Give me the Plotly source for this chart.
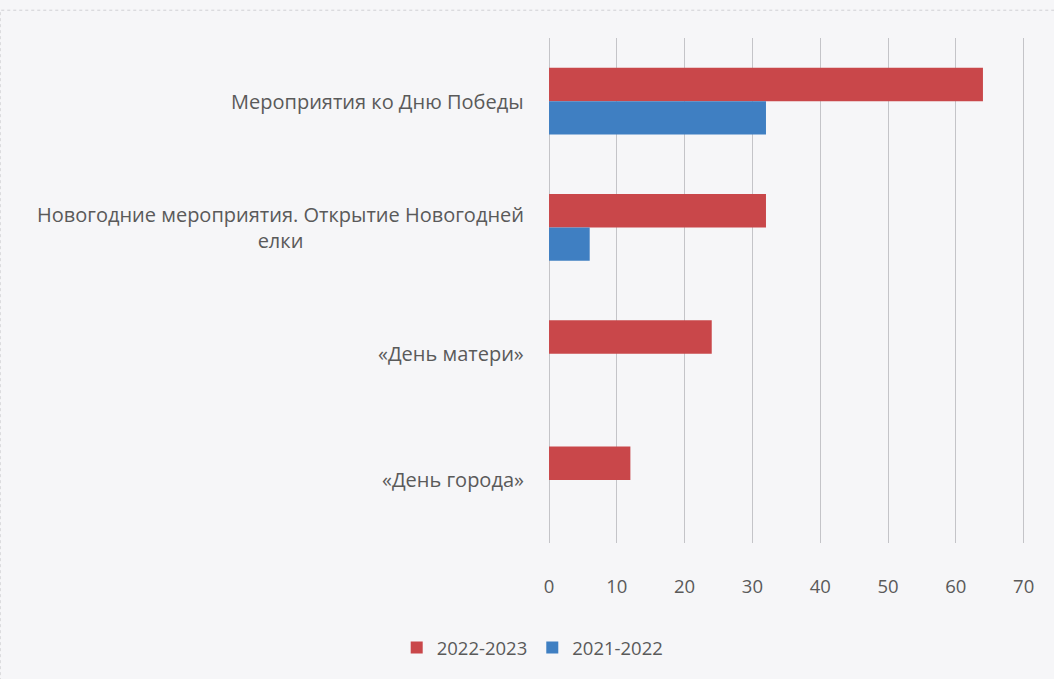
import plotly.graph_objects as go

categories = [
    "Мероприятия ко Дню Победы",
    "Новогодние мероприятия. Открытие Новогодней<br>елки",
    "«День матери»",
    "«День города»",
]
series_names = ["2022-2023", "2021-2022"]
values_2022_2023 = [64, 32, 24, 12]
values_2021_2022 = [32, 6, 0, 0]
x_ticks = [0, 10, 20, 30, 40, 50, 60, 70]

RED = "#c9474a"
BLUE = "#3f7fc2"
TEXT = "#5a5a5a"
GRID = "#c4c4c8"
FONT = "Open Sans"

cat_ids = list(range(len(categories)))

fig = go.Figure()
fig.add_trace(go.Bar(y=cat_ids, x=values_2022_2023, name=series_names[0],
                     orientation="h", marker=dict(color=RED, line=dict(width=0))))
fig.add_trace(go.Bar(y=cat_ids, x=values_2021_2022, name=series_names[1],
                     orientation="h", marker=dict(color=BLUE, line=dict(width=0))))

annotations = []
for i, c in enumerate(categories):
    annotations.append(dict(
        x=0, xref="paper", y=i, yref="y", text=c, showarrow=False,
        xanchor="right", yanchor="middle", align="center", xshift=-22,
        font=dict(family=FONT, size=20, color=TEXT)))

fig.update_layout(
    width=1054, height=679,
    margin=dict(l=548, r=28, t=38, b=136),
    paper_bgcolor="#f6f6f8",
    plot_bgcolor="#f6f6f8",
    barmode="group",
    bargap=0.47,
    bargroupgap=0,
    showlegend=True,
    legend=dict(orientation="h", x=-0.032, xanchor="center", y=-0.208, yanchor="middle",
                font=dict(family=FONT, size=18.5, color=TEXT), traceorder="normal",
                itemwidth=30),
    annotations=annotations,
    shapes=[dict(type="rect", xref="paper", yref="paper",
                 x0=-1.146, x1=1.2, y0=-0.5, y1=1.055,
                 line=dict(color="#d0d0d4", width=1, dash="dot"), layer="below")],
)
fig.update_xaxes(range=[-0.15, 70.35], tickvals=x_ticks, showgrid=True, gridcolor=GRID,
                 gridwidth=1, zeroline=True, zerolinecolor=GRID, zerolinewidth=1,
                 showline=False, ticks="",
                 ticklabelstandoff=30,
                 tickfont=dict(family=FONT, size=18.5, color=TEXT))
fig.update_yaxes(range=[3.5, -0.5], tickvals=cat_ids, showticklabels=False,
                 showgrid=False, zeroline=False, showline=False)

fig.write_html("out.html", config={"displayModeBar": False},
               post_script="document.body.style.margin='0';")
